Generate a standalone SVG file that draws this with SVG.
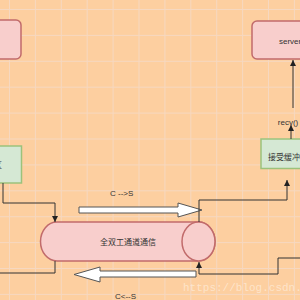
<svg xmlns="http://www.w3.org/2000/svg" width="300" height="300" viewBox="0 0 300 300">
<defs>
<pattern id="grid" x="9" y="9" width="25.9" height="25.9" patternUnits="userSpaceOnUse">
<path d="M0 0.5H25.9M0.5 0V25.9" fill="none" stroke="#f6d8c0" stroke-width="1"/>
</pattern>
<marker id="ah" viewBox="0 0 10 10" refX="10" refY="5" markerWidth="6" markerHeight="6" orient="auto">
<path d="M0 0L10 5L0 10Z" fill="#222"/>
</marker>
<style>
.red{fill:#f8cecc;stroke:#c16b6b;stroke-width:1.5}
.green{fill:#d5e8d4;stroke:#9cc27b;stroke-width:1.5}
.t{font-family:"Liberation Sans","Noto Sans CJK SC",sans-serif;font-size:8px;fill:#333}
.e{fill:none;stroke:#333;stroke-width:1}
.wa{fill:#fff;stroke:#555;stroke-width:1}
</style>
</defs>
<rect width="300" height="300" fill="#fdcfa0"/>
<rect width="300" height="300" fill="url(#grid)"/>

<g id="client">
<rect class="red" x="-58" y="20" width="79" height="39" rx="5"/>
</g>
<g id="server">
<rect class="red" x="252" y="21" width="80" height="38" rx="5"/>
<text class="t" x="279" y="44">server</text>
</g>
<g id="sendbuf">
<rect class="green" x="-58" y="146" width="79.5" height="37"/>
<text class="t" x="-18" y="168" text-anchor="middle">发送缓冲区</text>
</g>
<g id="recvbuf">
<rect class="green" x="261" y="139" width="80" height="29.5"/>
<text class="t" x="268" y="160">接受缓冲区</text>
</g>
<g id="recv">
<text class="t" x="288" y="125" text-anchor="middle">recv()</text>
</g>
<g id="channel">
<path class="red" d="M57 222H198.5A16.5 19.5 0 0 1 198.5 261H57A16.5 19.5 0 0 1 57 222Z"/>
<ellipse class="red" cx="198.5" cy="241.5" rx="16.5" ry="19.5"/>
<text class="t" x="128" y="244.5" text-anchor="middle">全双工通道通信</text>
</g>
<g id="cs-arrow">
<path class="wa" d="M79 207H178V203L202 210L178 217V213H79Z"/>
<text class="t" x="110" y="196">C --&gt;S</text>
</g>
<g id="sc-arrow">
<path class="wa" d="M196 271H100V267L74 274.5L100 282V277H196Z"/>
<text class="t" x="115" y="299">C&lt;--S</text>
</g>

<g id="connectors">
<path class="e" d="M3 183V203H55V222" marker-end="url(#ah)"/>
<path class="e" d="M55 261V273H-2"/>
<path class="e" d="M199 222V200H287V180" marker-end="url(#ah)"/>
<path class="e" d="M302 258H278V274H199V262" marker-end="url(#ah)"/>
<path class="e" d="M291 139V125" marker-end="url(#ah)"/>
<path class="e" d="M293 108V60" marker-end="url(#ah)"/>
</g>

<text x="183" y="291" font-family="Liberation Mono,monospace" font-size="11" fill="#fff" fill-opacity="0.45">https://blog.csdn.net/</text>
</svg>
